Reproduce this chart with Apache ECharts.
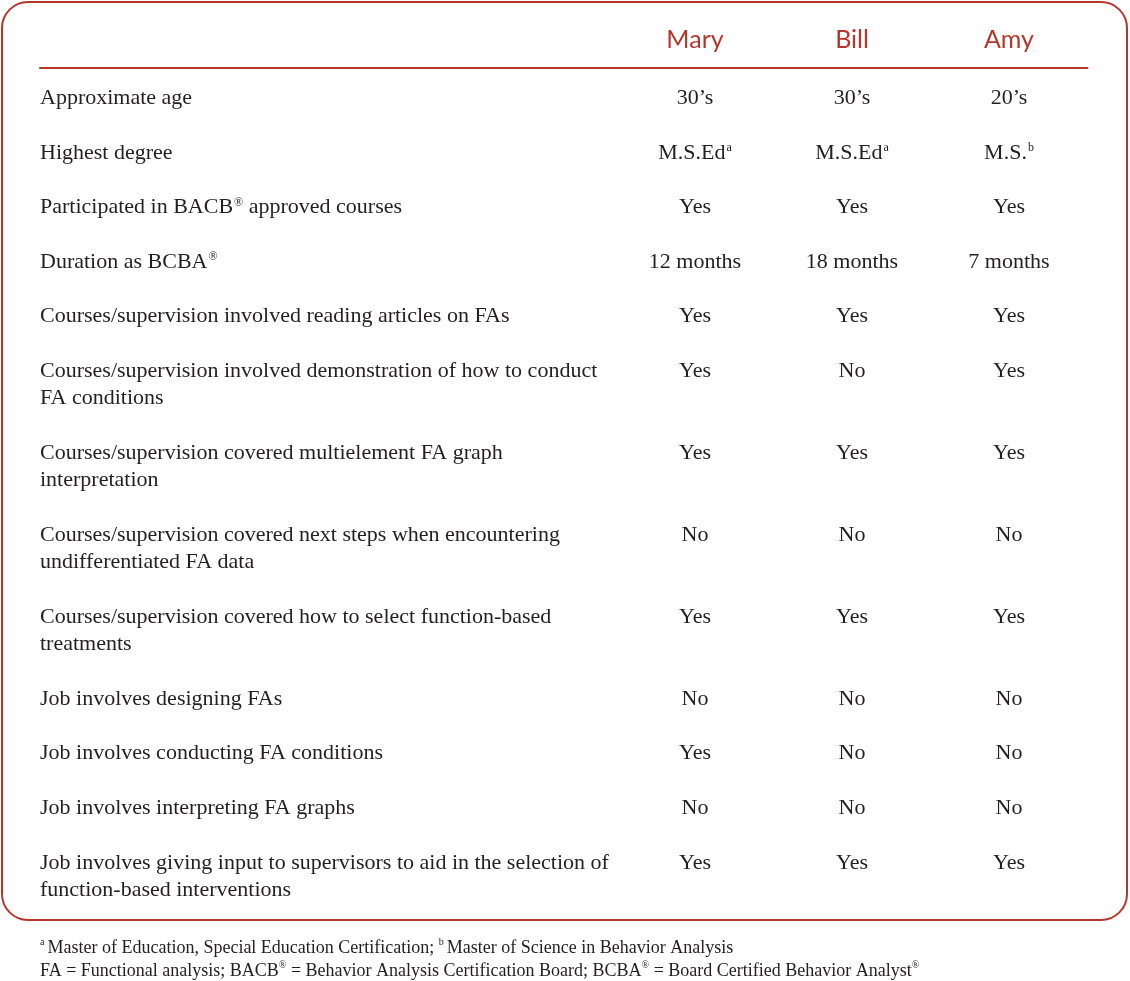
<!DOCTYPE html>
<html><head><meta charset="utf-8">
<script src="https://cdn.jsdelivr.net/npm/echarts@6/dist/echarts.min.js"></script>
<style>html,body{margin:0;padding:0;background:#fff}#c{width:1130px;height:981px}</style>
</head><body><div id="c"></div>
<script>
// ---- data ----
const people = ['Mary', 'Bill', 'Amy'];
const rows = [
  'Approximate age',
  'Highest degree',
  'Participated in BACB® approved courses',
  'Duration as BCBA®',
  'Courses/supervision involved reading articles on FAs',
  'Courses/supervision involved demonstration of how to conduct\nFA conditions',
  'Courses/supervision covered multielement FA graph\ninterpretation',
  'Courses/supervision covered next steps when encountering\nundifferentiated FA data',
  'Courses/supervision covered how to select function-based\ntreatments',
  'Job involves designing FAs',
  'Job involves conducting FA conditions',
  'Job involves interpreting FA graphs',
  'Job involves giving input to supervisors to aid in the selection of\nfunction-based interventions'
];
const mary = ['30’s', 'M.S.Ed[a]', 'Yes', '12 months', 'Yes', 'Yes', 'Yes', 'No', 'Yes', 'No', 'Yes', 'No', 'Yes'];
const bill = ['30’s', 'M.S.Ed[a]', 'Yes', '18 months', 'Yes', 'No', 'Yes', 'No', 'Yes', 'No', 'No', 'No', 'Yes'];
const amy  = ['20’s', 'M.S.[b]', 'Yes', '7 months', 'Yes', 'Yes', 'Yes', 'No', 'Yes', 'No', 'No', 'No', 'Yes'];
const footnotes = [
  '[a]Master of Education, Special Education Certification; [b]Master of Science in Behavior Analysis',
  'FA = Functional analysis; BACB® = Behavior Analysis Certification Board; BCBA® = Board Certified Behavior Analyst®'
];

// ---- build ----
const RED = '#b5372c', INK = '#231f20';
const SERIF = '"Liberation Serif", "DejaVu Serif", serif';
function toRich(s) {
  return s.replace(/\[(.)\]|®/g, (m, g) => g ? '{sup|' + g + '}' : '{reg|®}');
}
// each row occupies (lines + 1) line-slots on the category axis
const slotOf = [];
const slotLabels = [];
rows.forEach((r, i) => {
  const lines = r.split('\n');
  slotOf.push(slotLabels.length);
  lines.forEach(l => slotLabels.push(l));
  if (i < rows.length - 1) slotLabels.push('');
});
const slotIds = slotLabels.map((_, i) => 's' + i);
const values = [mary, bill, amy];

const supStyle = { fontSize: 12, fontFamily: SERIF, color: INK, verticalAlign: 'top', lineHeight: 13, padding: [0, 0, 0, 1] };
const bodyRich = { sup: supStyle, reg: supStyle };

const chart = echarts.init(document.getElementById('c'), null, { renderer: 'canvas' });
chart.setOption({
  animation: false,
  backgroundColor: '#fff',
  title: {
    left: 40, top: 937, padding: 0,
    text: footnotes.map(toRich).join('\n'),
    textStyle: {
      fontFamily: SERIF, fontSize: 18, fontWeight: 'normal', color: INK, lineHeight: 23,
      rich: {
        sup: { fontSize: 10, fontFamily: SERIF, color: INK, verticalAlign: 'top', lineHeight: 11, padding: [0, 3, 0, 0] },
        reg: { fontSize: 10, fontFamily: SERIF, color: INK, verticalAlign: 'top', lineHeight: 11 }
      }
    }
  },
  graphic: [{
    type: 'rect', silent: true,
    shape: { x: 2, y: 2, width: 1125, height: 918, r: 26 },
    style: { fill: 'none', stroke: RED, lineWidth: 2 }
  }],
  grid: [
    { left: 616.5, right: 42.5, top: 84.5, height: 27.31 * slotIds.length },
    { left: 40, right: 42.5, top: 67, height: 1 }
  ],
  xAxis: [{
    gridIndex: 0, type: 'category', data: people, position: 'top',
    axisLine: { show: false }, axisTick: { show: false }, splitLine: { show: false },
    axisLabel: { color: RED, fontSize: 25, fontFamily: 'Lato, "Open Sans", sans-serif', margin: 32 }
  }, {
    gridIndex: 1, type: 'value', position: 'top',
    axisLine: { show: true, lineStyle: { color: RED, width: 2 } },
    axisTick: { show: false }, axisLabel: { show: false }, splitLine: { show: false }
  }],
  yAxis: [{
    gridIndex: 0, type: 'category', data: slotIds, inverse: true,
    axisLine: { show: false }, axisTick: { show: false }, splitLine: { show: false },
    axisLabel: {
      interval: 0, align: 'left', margin: 576.5, hideOverlap: false,
      color: INK, fontSize: 22, fontFamily: SERIF,
      formatter: (v, i) => toRich(slotLabels[i]),
      rich: bodyRich
    }
  }, {
    gridIndex: 1, type: 'value', show: false
  }],
  series: people.map((p, j) => ({
    type: 'scatter', name: p, xAxisIndex: 0, yAxisIndex: 0,
    symbolSize: 1, itemStyle: { color: 'rgba(0,0,0,0)', opacity: 1 }, silent: true,
    data: rows.map((r, i) => [j, slotOf[i], values[j][i]]),
    label: {
      show: true, position: 'inside', color: INK, fontSize: 22, fontFamily: SERIF, opacity: 1,
      formatter: d => toRich(d.value[2]),
      rich: bodyRich
    }
  }))
});
</script></body></html>
